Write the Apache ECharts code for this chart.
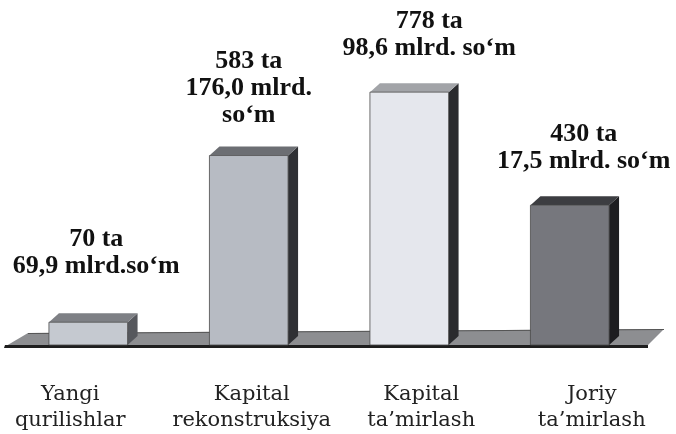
<!DOCTYPE html>
<html>
<head>
<meta charset="utf-8">
<script src="https://cdn.jsdelivr.net/npm/echarts@6/dist/echarts.min.js"></script>
<style>
  html, body { margin: 0; padding: 0; background: #fff; }
  #chart { width: 676px; height: 434px; }
</style>
</head>
<body>
<div id="chart"></div>
<script>
const categories = ['Yangi\nqurilishlar', 'Kapital\nrekonstruksiya', 'Kapital\nta’mirlash', 'Joriy\nta’mirlash'];
const counts = [70, 583, 778, 430];
const amountLabels = ['69,9 mlrd.so‘m', '176,0 mlrd.\nso‘m', '98,6 mlrd. so‘m', '17,5 mlrd. so‘m'];

// front / top / side colour of each box
const faceColors = [
  ['#c5c9d0', '#7e8085', '#56585d'],
  ['#b7bbc3', '#6c6e73', '#2f3034'],
  ['#e5e7ed', '#a2a4a8', '#2a2b2e'],
  ['#76777d', '#3c3d41', '#1d1d20']
];
// small hand nudges, labels in the scan are not placed evenly
const labelNudge = [[8, -14], [0, 1], [20, -2], [14, -2]];
const catPad = [[0, 36, 0, 0], [0, 0, 0, 6], [0, 0, 0, 24], [0, 0, 0, 44]];

const DX = 10, DY = 9;
const catFont = { fontFamily: 'DejaVu Serif', fontSize: 21, lineHeight: 26, color: '#222' };

const rich = {};
catPad.forEach((p, i) => { rich['c' + i] = Object.assign({ padding: p }, catFont); });

const chart = echarts.init(document.getElementById('chart'));
chart.setOption({
  animation: false,
  grid: { left: 8, right: 26, top: 20, bottom: 89 },
  xAxis: {
    type: 'category',
    data: categories,
    axisLine: { show: false },
    axisTick: { show: false },
    axisLabel: {
      interval: 0,
      margin: 37,
      formatter: (v, i) => v.split('\n').map(s => '{c' + i + '|' + s + '}').join('\n'),
      rich: rich
    }
  },
  yAxis: { type: 'value', min: 0, max: 1000, show: false },
  graphic: [
    // floor slab
    { type: 'polygon', z: 0, shape: { points: [[6, 346], [28, 333], [664, 329], [647, 346]] }, style: { fill: '#8d8e91' } },
    { type: 'polygon', z: 0, shape: { points: [[28, 333], [664, 329], [664, 330], [28, 334]] }, style: { fill: '#555' } },
    { type: 'polygon', z: 0, shape: { points: [[5, 345], [648, 345], [648, 348], [4, 348]] }, style: { fill: '#1e1e1e' } }
  ],
  series: [{
    type: 'custom',
    z: 5,
    data: counts.map((v, i) => [i, v]),
    renderItem: function (params, api) {
      const i = api.value(0);
      const base = api.coord([i, 0]);
      const top = api.coord([i, api.value(1)]);
      const w = api.size([1, 0])[0] * 0.49;
      const x0 = base[0] - w / 2, x1 = base[0] + w / 2;
      const y0 = top[1], y1 = base[1];
      const c = faceColors[i];
      const n = labelNudge[i];
      return {
        type: 'group',
        children: [
          { type: 'polygon', shape: { points: [[x1, y1], [x1, y0], [x1 + DX, y0 - DY], [x1 + DX, y1 - DY]] }, style: { fill: c[2] } },
          { type: 'polygon', shape: { points: [[x0, y0], [x0 + DX, y0 - DY], [x1 + DX, y0 - DY], [x1, y0]] }, style: { fill: c[1] } },
          { type: 'rect', shape: { x: x0, y: y0, width: w, height: y1 - y0 }, style: { fill: c[0], stroke: '#4a4a4a', lineWidth: 0.8 } },
          {
            type: 'text',
            x: base[0] + n[0],
            y: y0 - 28 + n[1],
            style: {
              text: counts[i] + ' ta\n' + amountLabels[i],
              align: 'center',
              verticalAlign: 'bottom',
              fontFamily: 'Liberation Serif',
              fontWeight: 'bold',
              fontSize: 26,
              lineHeight: 27,
              fill: '#111'
            }
          }
        ]
      };
    }
  }]
});
</script>
</body>
</html>
